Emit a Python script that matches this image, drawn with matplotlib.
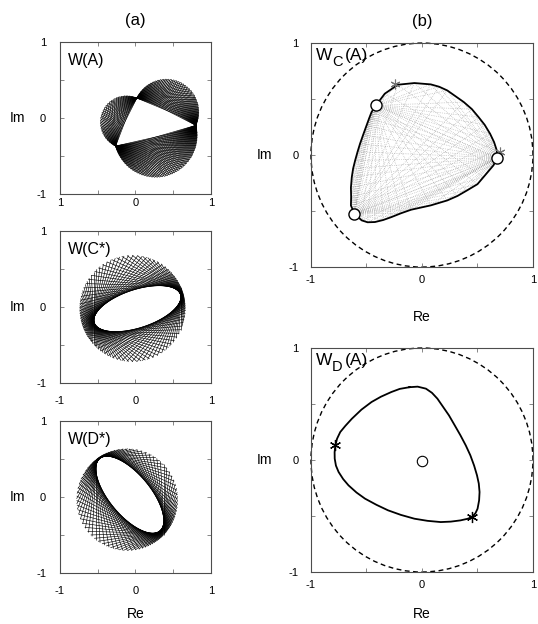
import numpy as np
import matplotlib
matplotlib.use("Agg")
import matplotlib.pyplot as plt
from matplotlib.collections import LineCollection

plt.rcParams["font.family"] = ["Liberation Sans", "DejaVu Sans"]
plt.rcParams["mathtext.default"] = "regular"

# ---------------------------------------------------------------------
# Values
# ---------------------------------------------------------------------

# W(A): triangle of eigenvalues, each edge carries a Thales half disc
wa_re = [0.018, 0.80, -0.263]
wa_im = [0.263, -0.096, -0.368]

# W(C*), W(D*): outer circle (centre, radius), inner ellipse (centre, semi axes, tilt deg)
wc_outer = [-0.04, -0.018, 0.70]
wc_inner = [0.025, -0.02, 0.60, 0.25, 18.0]
wd_outer = [-0.11, -0.035, 0.67]
wd_inner = [-0.075, 0.03, 0.62, 0.27, -50.0]

# W_C(A) boundary
bc_re = [-0.415, -0.335, -0.217, -0.068, 0.08, 0.155, 0.228, 0.377, 0.45, 0.51,
         0.565, 0.614, 0.65, 0.674, 0.68, 0.644, 0.555, 0.5, 0.407, 0.32, 0.228,
         0.08, -0.098, -0.19, -0.276, -0.35, -0.424, -0.49, -0.543, -0.608,
         -0.64, -0.638, -0.64, -0.632, -0.62, -0.602, -0.58, -0.558, -0.53,
         -0.499, -0.475, -0.454]
bc_im = [0.443, 0.548, 0.628, 0.643, 0.631, 0.61, 0.577, 0.473, 0.41, 0.339,
         0.27, 0.19, 0.115, 0.042, -0.024, -0.092, -0.196, -0.26, -0.315, -0.365,
         -0.405, -0.449, -0.488, -0.52, -0.554, -0.58, -0.598, -0.6, -0.583,
         -0.524, -0.45, -0.375, -0.29, -0.196, -0.12, -0.048, 0.03, 0.101, 0.18,
         0.265, 0.33, 0.384]
bc_circ_re = [-0.415, 0.68, -0.608]
bc_circ_im = [0.443, -0.024, -0.524]
bc_star_re = [-0.24, 0.70]
bc_star_im = [0.635, 0.03]

# W_D(A) boundary
bd_re = [-0.113, -0.2, -0.276, -0.37, -0.454, -0.545, -0.632, -0.69, -0.736,
         -0.765, -0.78, -0.787, -0.786, -0.775, -0.751, -0.71, -0.662, -0.59,
         -0.513, -0.41, -0.306, -0.19, -0.068, 0.05, 0.169, 0.26, 0.347, 0.41,
         0.451, 0.482, 0.501, 0.515, 0.519, 0.512, 0.496, 0.47, 0.436, 0.395,
         0.347, 0.295, 0.243, 0.19, 0.139, 0.09, 0.036, -0.039]
bd_im = [0.65, 0.635, 0.607, 0.565, 0.518, 0.45, 0.368, 0.305, 0.25, 0.19,
         0.131, 0.07, 0.012, -0.05, -0.107, -0.17, -0.226, -0.29, -0.345, -0.4,
         -0.449, -0.49, -0.524, -0.543, -0.554, -0.55, -0.539, -0.525, -0.509,
         -0.475, -0.435, -0.36, -0.286, -0.21, -0.137, -0.05, 0.042, 0.13, 0.22,
         0.31, 0.399, 0.475, 0.548, 0.6, 0.637, 0.655]
bd_circ_re = [0.0]
bd_circ_im = [-0.01]
bd_star_re = [-0.78, 0.451]
bd_star_im = [0.131, -0.509]

tick_pos = [-1, -0.5, 0, 0.5, 1]
tick_lab = ["-1", "", "0", "", "1"]
tick_lab_top = ["1", "", "0", "", "1"]


# ---------------------------------------------------------------------
# Helpers
# ---------------------------------------------------------------------

def frame(ax, xlabels, xpad, ypad):
    ax.set_xlim(-1, 1)
    ax.set_ylim(-1, 1)
    ax.set_xticks(tick_pos)
    ax.set_yticks(tick_pos)
    ax.set_xticklabels(xlabels)
    ax.set_yticklabels(tick_lab)
    ax.tick_params(direction="in", top=True, right=True, length=3,
                   width=0.6, color="0.45", labelsize=8)
    ax.tick_params(axis="x", pad=xpad)
    ax.tick_params(axis="y", pad=ypad)
    for s in ax.spines.values():
        s.set_linewidth(0.8)
        s.set_color("0.3")


def thales_mesh(ax, re, im):
    pts = np.column_stack([re, im])
    segs = []
    for i in range(3):
        A, B, C = pts[i], pts[(i + 1) % 3], pts[(i + 2) % 3]
        M = (A + B) / 2
        r = np.linalg.norm(B - A) / 2
        u = (A - M) / r
        nrm = np.array([-u[1], u[0]])
        sgn = 1 if np.dot(nrm, M - C) > 0 else -1
        a0 = np.arctan2(u[1], u[0])
        n = int(95 * r)
        for t in np.linspace(0, np.pi, n)[1:-1]:
            ang = a0 + sgn * t
            P = M + r * np.array([np.cos(ang), np.sin(ang)])
            segs.append([A, P])
            segs.append([P, B])
    ax.add_collection(LineCollection(segs, colors="k", linewidths=0.45))


def chord_mesh(ax, outer, inner, n=110):
    ox, oy, R = outer
    cx, cy, a, b, th = inner
    th = np.deg2rad(th)
    segs = []
    for phi in np.linspace(0, 2 * np.pi, n, endpoint=False):
        nv = np.array([np.cos(phi), np.sin(phi)])
        tv = np.array([-np.sin(phi), np.cos(phi)])
        h = nv @ [cx, cy] + np.hypot(a * np.cos(phi - th), b * np.sin(phi - th))
        d = h - nv @ [ox, oy]
        half = np.sqrt(max(R ** 2 - d ** 2, 0.0))
        foot = np.array([ox, oy]) + d * nv
        segs.append([foot - half * tv, foot + half * tv])
    ax.add_collection(LineCollection(segs, colors="k", linewidths=0.45))


def unit_circle(ax):
    ax.add_patch(plt.Circle((0, 0), 1.0, fill=False, ls=(0, (3.5, 2.5)),
                            lw=1.0, color="k", clip_on=False))


def sub_label(ax, sub):
    ax.text(-0.958, 0.845, "W", fontsize=12.5, ha="left", va="baseline")
    ax.text(-0.81, 0.795, sub, fontsize=10.5, ha="left", va="baseline")
    ax.text(-0.69, 0.845, "(A)", fontsize=12.5, ha="left", va="baseline")


# ---------------------------------------------------------------------
# Figure
# ---------------------------------------------------------------------

fig = plt.figure(figsize=(5.38, 6.24), dpi=100)

# panel (a)
axA = fig.add_axes([0.1115, 0.689, 0.2807, 0.2436])
axC = fig.add_axes([0.1115, 0.386, 0.2807, 0.2436])
axD = fig.add_axes([0.1115, 0.0817, 0.2807, 0.2436])

thales_mesh(axA, wa_re, wa_im)
chord_mesh(axC, wc_outer, wc_inner)
chord_mesh(axD, wd_outer, wd_inner)

frame(axA, tick_lab_top, 3, 10)
frame(axC, tick_lab, 9, 10)
frame(axD, tick_lab, 9, 10)

for ax, lab in zip([axA, axC, axD], ["W(A)", "W(C*)", "W(D*)"]):
    ax.text(-0.9, 0.86, lab, fontsize=11.5, ha="left", va="top")
    ax.set_ylabel("Im", rotation=0, fontsize=10, va="center", ha="center")
    ax.yaxis.set_label_coords(-0.28, 0.5)

axD.set_xlabel("Re", fontsize=10, va="center")
axD.xaxis.set_label_coords(0.5, -0.27)
axA.set_title("(a)", fontsize=12, pad=12)

# panel (b)
axB1 = fig.add_axes([0.578, 0.572, 0.4126, 0.359])
axB2 = fig.add_axes([0.578, 0.0833, 0.4126, 0.359])

# interior fans of W_C(A)
bc = np.column_stack([bc_re, bc_im])
fan = []
for cr, ci in zip(bc_circ_re, bc_circ_im):
    for p in bc:
        fan.append([[cr, ci], p])
axB1.add_collection(LineCollection(fan, colors="0.62", linewidths=0.5,
                                   linestyles=(0, (0.8, 1.8))))

unit_circle(axB1)
axB1.plot(np.r_[bc_re, bc_re[0]], np.r_[bc_im, bc_im[0]], color="k", lw=1.3)
axB1.plot(bc_star_re, bc_star_im, ls="none", marker=(6, 2, 0), ms=7,
          mec="0.45", mew=0.8)
axB1.plot(bc_circ_re, bc_circ_im, ls="none", marker="o", ms=8, mfc="white",
          mec="k", mew=1.0)

unit_circle(axB2)
axB2.plot(np.r_[bd_re, bd_re[0]], np.r_[bd_im, bd_im[0]], color="k", lw=1.3)
axB2.plot(bd_star_re, bd_star_im, ls="none", marker=(6, 2, 0), ms=8,
          mec="k", mew=0.9)
axB2.plot(bd_circ_re, bd_circ_im, ls="none", marker="o", ms=7.5, mfc="white",
          mec="k", mew=0.8)

frame(axB1, tick_lab, 6, 9)
frame(axB2, tick_lab, 6, 9)

sub_label(axB1, "C")
sub_label(axB2, "D")

for ax in [axB1, axB2]:
    ax.set_ylabel("Im", rotation=0, fontsize=10, va="center", ha="center")
    ax.yaxis.set_label_coords(-0.21, 0.5)
    ax.set_xlabel("Re", fontsize=10, va="center")
axB1.xaxis.set_label_coords(0.5, -0.223)
axB2.xaxis.set_label_coords(0.5, -0.188)
axB1.set_title("(b)", fontsize=12, pad=12)

fig.savefig("out.png", dpi=100)
